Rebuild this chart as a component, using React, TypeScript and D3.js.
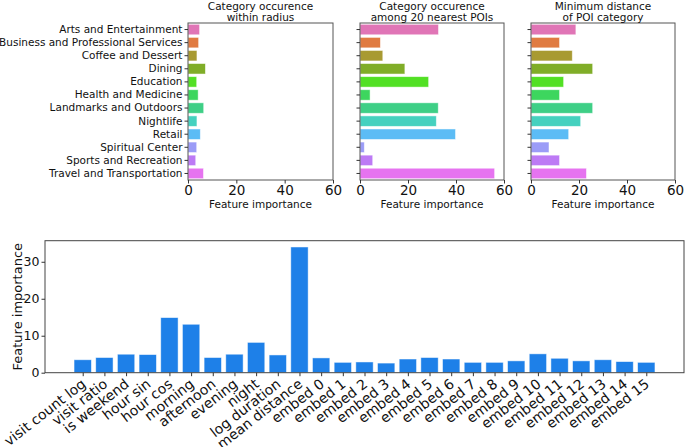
import { useEffect, useRef } from "react";
import * as d3 from "d3";

// POI categories (top three panels)
const categories = [
  "Arts and Entertainment",
  "Business and Professional Services",
  "Coffee and Dessert",
  "Dining",
  "Education",
  "Health and Medicine",
  "Landmarks and Outdoors",
  "Nightlife",
  "Retail",
  "Spiritual Center",
  "Sports and Recreation",
  "Travel and Transportation",
];

const categoryColors = [
  "#e075b6", "#e07b42", "#a89a32", "#80ad28", "#52e024", "#3dd65e",
  "#3ecf86", "#45d1bf", "#5cbcf5", "#9b9cf7", "#bd7af5", "#e673f0",
];

const withinRadius = [4.8, 4.4, 3.7, 7.2, 3.6, 4.2, 6.5, 3.7, 5.1, 3.6, 3.2, 6.4];
const nearest20 = [32.7, 8.5, 9.5, 18.7, 28.6, 4.2, 32.6, 31.8, 39.8, 1.8, 5.3, 56.1];
const minDistance = [18.7, 11.9, 17.2, 25.7, 13.6, 11.9, 25.7, 20.7, 15.7, 7.5, 11.9, 23.1];

const topTitles = [
  ["Category occurence", "within radius"],
  ["Category occurence", "among 20 nearest POIs"],
  ["Minimum distance", "of POI category"],
];
const topTicks = [0, 20, 40, 60];

// Bottom panel features
const features = [
  "visit count log", "visit ratio", "is weekend", "hour sin", "hour cos",
  "morning", "afternoon", "evening", "night", "log duration", "mean distance",
  "embed 0", "embed 1", "embed 2", "embed 3", "embed 4", "embed 5", "embed 6",
  "embed 7", "embed 8", "embed 9", "embed 10", "embed 11", "embed 12",
  "embed 13", "embed 14", "embed 15",
];
const featureValues = [
  3.5, 4.1, 5.0, 4.9, 14.9, 13.1, 4.1, 5.0, 8.2, 4.8, 34.0,
  4.0, 2.8, 2.9, 2.6, 3.7, 4.1, 3.7, 2.8, 2.8, 3.2, 5.1, 3.9, 3.2, 3.5, 3.0, 2.8,
];
const bottomTicks = [0, 10, 20, 30];

const FONT = "DejaVu Sans, sans-serif";

export default function App() {
  const svgRef = useRef<SVGSVGElement>(null);

  useEffect(() => {
    if (!svgRef.current) return;
    const svg = d3.select(svgRef.current);
    svg.selectAll("*").remove();

    // ---------- top panels ----------
    const panelX = [
      [188, 333],
      [360, 504],
      [531, 675],
    ];
    const top = 23;
    const bottom = 180;
    const series = [withinRadius, nearest20, minDistance];

    const y = d3
      .scaleBand()
      .domain(categories)
      .range([top, bottom])
      .paddingInner(0.2)
      .paddingOuter(0.1);

    series.forEach((vals, p) => {
      const x = d3.scaleLinear().domain([0, 60]).range(panelX[p]);
      const g = svg.append("g");

      g.selectAll("rect.bar")
        .data(vals)
        .enter()
        .append("rect")
        .attr("x", x(0))
        .attr("y", (_, i) => y(categories[i])!)
        .attr("width", (d) => x(d) - x(0))
        .attr("height", y.bandwidth())
        .attr("fill", (_, i) => categoryColors[i])
        .attr("stroke", "#ffffff")
        .attr("stroke-opacity", 0.6)
        .attr("stroke-width", 0.8);

      // frame
      g.append("rect")
        .attr("x", panelX[p][0])
        .attr("y", top)
        .attr("width", panelX[p][1] - panelX[p][0])
        .attr("height", bottom - top)
        .attr("fill", "none")
        .attr("stroke", "#555")
        .attr("stroke-width", 1);

      // x axis
      const xa = g
        .append("g")
        .attr("transform", `translate(0,${bottom})`)
        .call(d3.axisBottom(x).tickValues(topTicks).tickSize(3.5).tickPadding(2).tickFormat(d3.format("d")));
      xa.select(".domain").remove();
      xa.selectAll("line").attr("stroke", "#333");
      xa.selectAll("text")
        .attr("fill", "#111")
        .style("font-family", FONT)
        .style("font-size", "13.5px");

      g.append("text")
        .attr("x", (panelX[p][0] + panelX[p][1]) / 2)
        .attr("y", 208)
        .attr("text-anchor", "middle")
        .style("font-family", FONT)
        .style("font-size", "10.5px")
        .attr("fill", "#111")
        .text("Feature importance");

      topTitles[p].forEach((t, k) => {
        g.append("text")
          .attr("x", (panelX[p][0] + panelX[p][1]) / 2)
          .attr("y", 9.5 + k * 11.5)
          .attr("text-anchor", "middle")
          .style("font-family", FONT)
          .style("font-size", "10.5px")
          .attr("fill", "#111")
          .text(t);
      });

      // y axis ticks
      const ya = g
        .append("g")
        .attr("transform", `translate(${panelX[p][0]},0)`)
        .call(
          d3.axisLeft(y).tickSize(3.5).tickPadding(2)
            .tickFormat(p === 0 ? (d) => d : () => "")
        );
      ya.select(".domain").remove();
      ya.selectAll("line").attr("stroke", "#333");
      ya.selectAll("text")
        .attr("fill", "#111")
        .style("font-family", FONT)
        .style("font-size", "10.5px");
    });

    // ---------- bottom panel ----------
    const bx0 = 45;
    const bx1 = 684;
    const by0 = 240.7;
    const by1 = 372.7;
    const n = features.length;
    const margin = (n - 1 + 0.8) * 0.05;
    const xb = d3
      .scaleLinear()
      .domain([-0.4 - margin, n - 1 + 0.4 + margin])
      .range([bx0, bx1]);
    const yb = d3.scaleLinear().domain([0, 34 * 1.05]).range([by1, by0]);

    const gb = svg.append("g");
    gb.selectAll("rect.fbar")
      .data(featureValues)
      .enter()
      .append("rect")
      .attr("x", (_, i) => xb(i - 0.4))
      .attr("y", (d) => yb(d))
      .attr("width", xb(0.8) - xb(0))
      .attr("height", (d) => yb(0) - yb(d))
      .attr("fill", "#1e80e8")
      .attr("stroke", "#ffffff")
      .attr("stroke-opacity", 0.6)
      .attr("stroke-width", 0.8);

    gb.append("rect")
      .attr("x", bx0)
      .attr("y", by0)
      .attr("width", bx1 - bx0)
      .attr("height", by1 - by0)
      .attr("fill", "none")
      .attr("stroke", "#444")
      .attr("stroke-width", 1);

    const yab = gb
      .append("g")
      .attr("transform", `translate(${bx0},0)`)
      .call(d3.axisLeft(yb).tickValues(bottomTicks).tickSize(3.5).tickPadding(2));
    yab.select(".domain").remove();
    yab.selectAll("line").attr("stroke", "#333");
    yab.selectAll("text")
      .attr("fill", "#111")
      .style("font-family", FONT)
      .style("font-size", "12.5px");

    const xab = gb
      .append("g")
      .attr("transform", `translate(0,${by1})`)
      .call(
        d3.axisBottom(xb).tickValues(d3.range(n)).tickSize(3.5).tickFormat(() => "")
      );
    xab.select(".domain").remove();
    xab.selectAll("line").attr("stroke", "#333");

    gb.selectAll("text.flabel")
      .data(features)
      .enter()
      .append("text")
      .attr("transform", (_, i) => `translate(${xb(i) + 4},${by1 + 13}) rotate(-38)`)
      .attr("text-anchor", "end")
      .style("font-family", FONT)
      .style("font-size", "14px")
      .attr("fill", "#111")
      .text((d) => d);

    gb.append("text")
      .attr("transform", `translate(22,${(by0 + by1) / 2}) rotate(-90)`)
      .attr("text-anchor", "middle")
      .style("font-family", FONT)
      .style("font-size", "13px")
      .attr("fill", "#111")
      .text("Feature importance");
  }, []);

  return (
    <div style={{ position: "absolute", left: 0, top: 0 }}>
      <svg ref={svgRef} width={685} height={447} style={{ display: "block", background: "#fff" }} />
    </div>
  );
}
